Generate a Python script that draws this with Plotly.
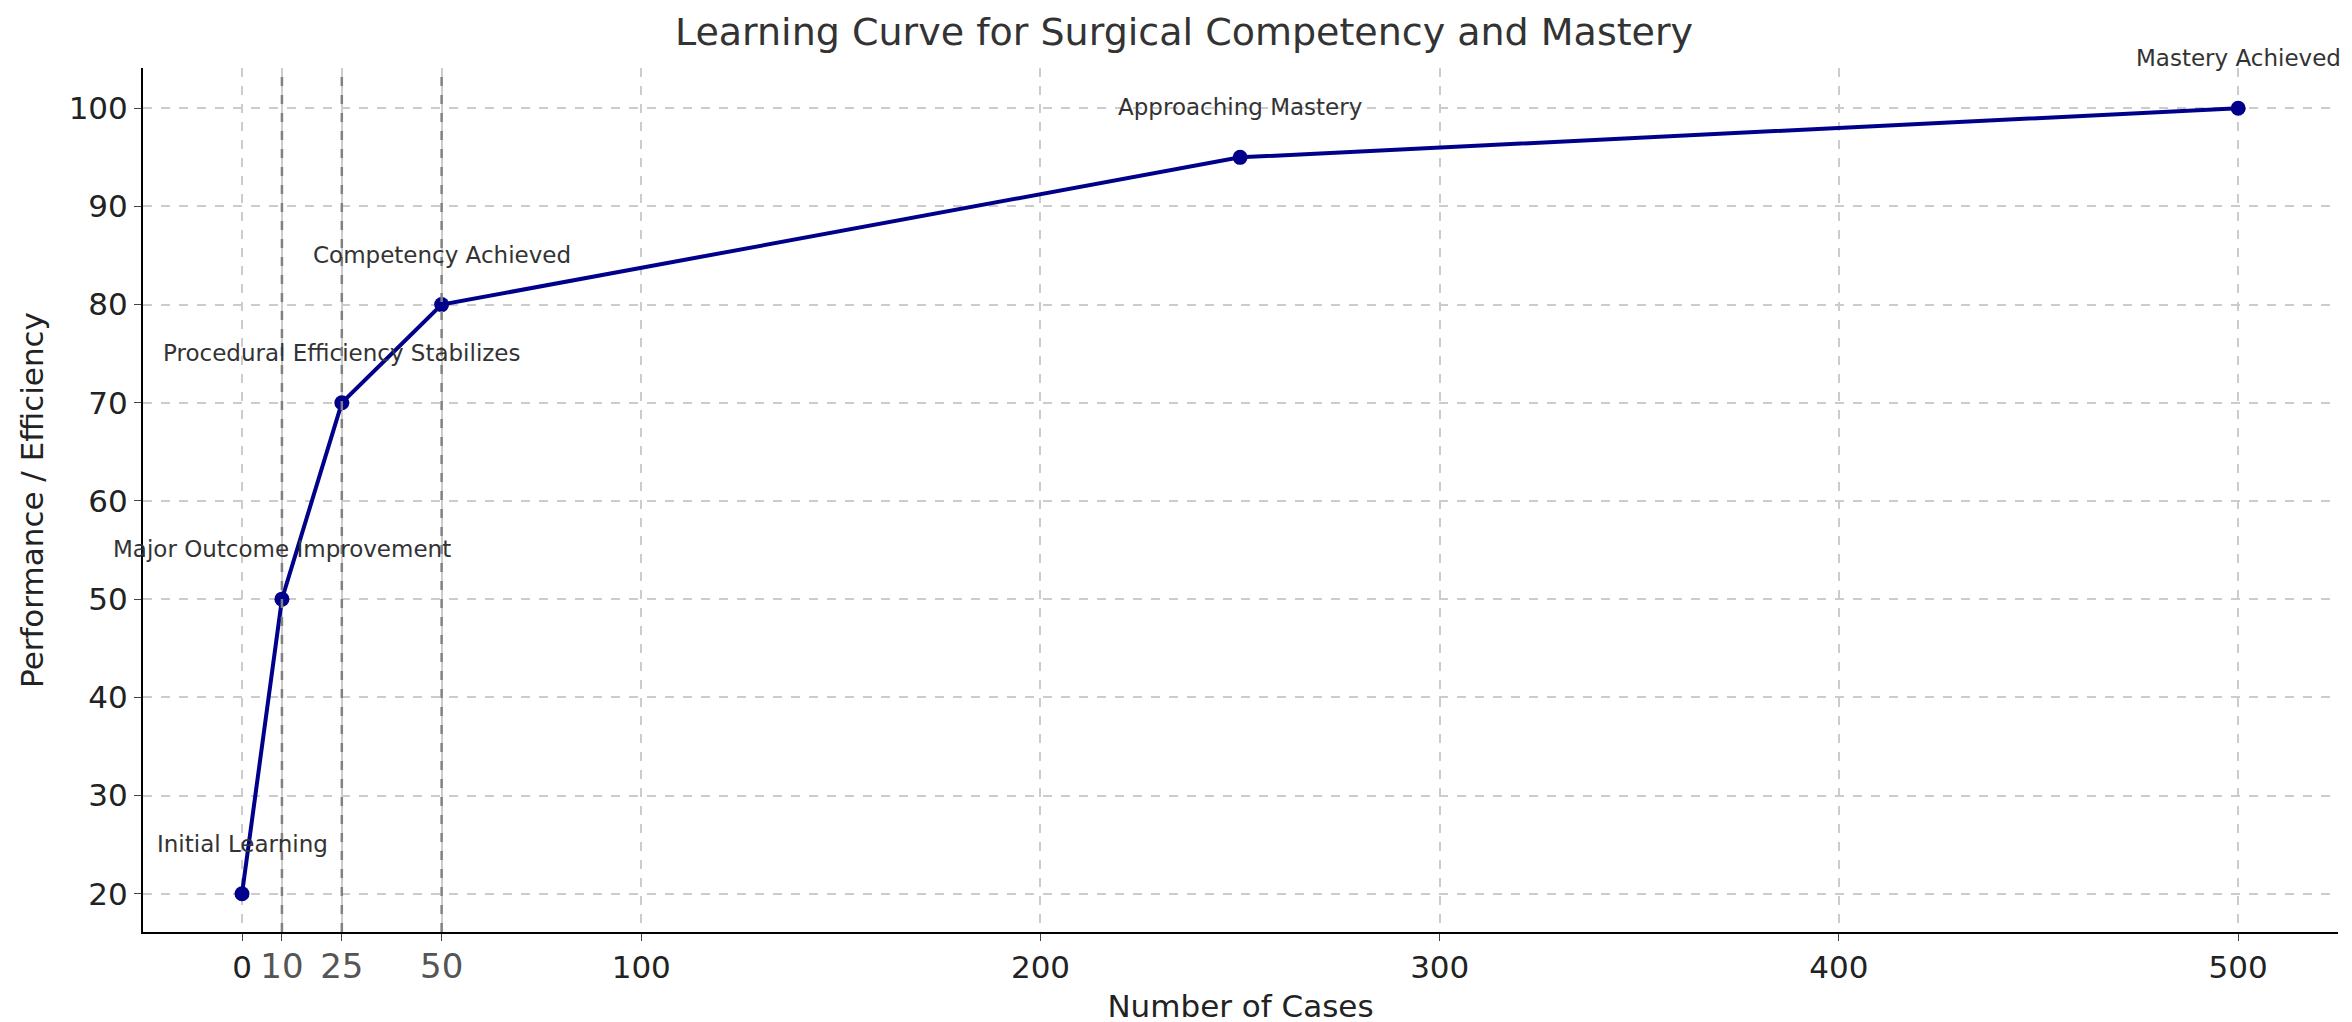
import plotly.graph_objects as go

cases = [0, 10, 25, 50, 250, 500]
performance = [20, 50, 70, 80, 95, 100]
labels = ["Initial Learning", "Major Outcome Improvement", "Procedural Efficiency Stabilizes",
          "Competency Achieved", "Approaching Mastery", "Mastery Achieved"]
milestones = [10, 25, 50]
x_ticks = [0, 10, 25, 50, 100, 200, 300, 400, 500]
y_ticks = [20, 30, 40, 50, 60, 70, 80, 90, 100]

fig = go.Figure()
fig.add_trace(go.Scatter(x=cases, y=performance, mode="lines+markers",
                         line=dict(color="#00008B", width=4),
                         marker=dict(color="#00008B", size=15)))

for m in milestones:
    fig.add_vline(x=m, line=dict(color="grey", width=2.5, dash="dash"))

# label sits 5 units above its point (about 50 px at this scale)
for x, y, t in zip(cases, performance, labels):
    fig.add_annotation(x=x, y=y, yshift=50, text=t, showarrow=False, xref="x", yref="y",
                       font=dict(size=23, color="#333333"))

tick_text = [f"<span style='color:#555555;font-size:34px'>{v}</span>" if v in milestones else str(v)
             for v in x_ticks]

axis_common = dict(showline=True, linecolor="black", linewidth=2, ticks="outside", ticklen=7,
                   showgrid=True, gridcolor="#cccccc", griddash="dash", gridwidth=1.5,
                   zeroline=False, tickfont=dict(size=31, color="#222222"))

fig.update_layout(
    width=2352, height=1022, paper_bgcolor="white", plot_bgcolor="white",
    margin=dict(l=135, r=22, t=60, b=89),
    font=dict(family="DejaVu Sans"), showlegend=False,
    title=dict(text="Learning Curve for Surgical Competency and Mastery", x=0.5, xanchor="center",
               y=0.99, yanchor="top", font=dict(size=38, color="#333333")),
    xaxis=dict(range=[-24.8, 525], tickvals=x_ticks, ticktext=tick_text,
               title=dict(text="Number of Cases", font=dict(size=31, color="#222222"), standoff=10),
               **axis_common),
    yaxis=dict(range=[16.1, 104.1], tickvals=y_ticks,
               title=dict(text="Performance / Efficiency", font=dict(size=31, color="#222222"), standoff=16),
               **axis_common),
)

fig.write_html("out.html")
